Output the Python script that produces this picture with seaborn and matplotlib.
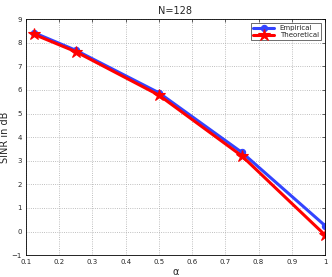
import pandas as pd
import seaborn as sns
import matplotlib.pyplot as plt

# Data
alpha = [0.125, 0.25, 0.5, 0.75, 1.0]
empirical = [8.42, 7.68, 5.88, 3.35, 0.25]
theoretical = [8.35, 7.62, 5.78, 3.20, -0.15]

df = pd.DataFrame({
    'alpha': alpha * 2,
    'SINR': empirical + theoretical,
    'kind': ['Empirical'] * len(alpha) + ['Theoretical'] * len(alpha),
})

sns.set_style('white')
plt.rcParams['font.family'] = ['DejaVu Sans']

fig = plt.figure(figsize=(3.32, 2.77), dpi=100)
ax = fig.add_axes([0.078, 0.079, 0.901, 0.852])

sns.lineplot(data=df, x='alpha', y='SINR', hue='kind', style='kind',
             palette={'Empirical': '#3344ff', 'Theoretical': '#ff0000'},
             markers={'Empirical': 'o', 'Theoretical': '*'},
             dashes=False, linewidth=2.2, ax=ax)


def fix_markers(lines):
    for line in lines:
        c = line.get_color()
        line.set_markerfacecolor(c)
        line.set_markeredgecolor(c)
        line.set_markeredgewidth(0.8)
        if line.get_marker() == '*':
            line.set_markersize(9)
        elif line.get_marker() == 'o':
            line.set_markersize(4.5)


fix_markers(ax.lines)

ax.set_xlim(0.1, 1.0)
ax.set_ylim(-1, 9)
ax.set_xticks([0.1, 0.2, 0.3, 0.4, 0.5, 0.6, 0.7, 0.8, 0.9, 1.0])
ax.set_xticklabels(['0.1', '0.2', '0.3', '0.4', '0.5', '0.6', '0.7', '0.8', '0.9', '1'])
ax.set_yticks(range(-1, 10))
ax.set_yticklabels(['\u22121'] + [str(i) for i in range(0, 10)])
ax.tick_params(labelsize=5, length=2, width=0.5, direction='in', pad=3,
               top=True, right=True)
ax.grid(True, linestyle=':', linewidth=0.6, color='#aaaaaa')
for s in ax.spines.values():
    s.set_linewidth(0.6)
    s.set_color('black')

ax.set_title('N=128', fontsize=7, pad=4)
ax.set_xlabel('\u03b1', fontsize=7, labelpad=1)
ax.set_ylabel('SINR in dB', fontsize=7, labelpad=1)

leg = ax.legend(loc='upper right', fontsize=5, frameon=True, fancybox=False,
                edgecolor='black', borderpad=0.3, handlelength=3,
                labelspacing=0.1, borderaxespad=0.6)
leg.get_frame().set_linewidth(0.5)
fix_markers(leg.get_lines())

fig.savefig('out.png', dpi=100)
